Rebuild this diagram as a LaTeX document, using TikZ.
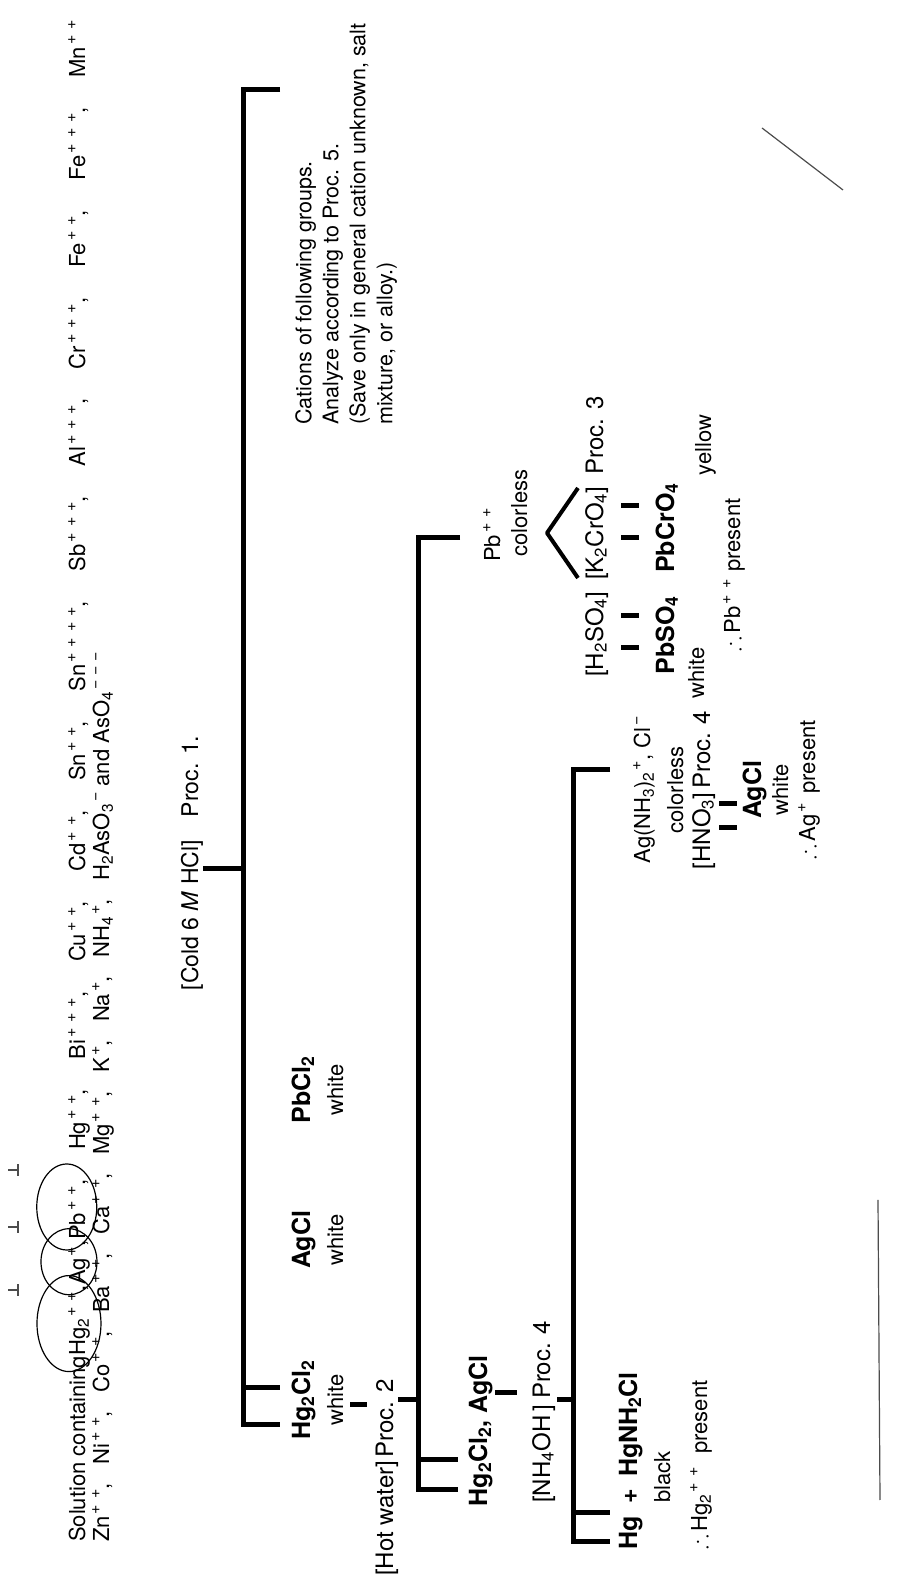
\documentclass[tikz,border=0pt]{standalone}
\usepackage{amssymb}
\usepackage{fontspec}
\setmainfont{TeX Gyre Heros}
\usetikzlibrary{positioning,shapes.geometric}
\newcommand{\sbs}[1]{\textsubscript{#1}}
\newcommand{\chg}[1]{\kern2pt\raisebox{0.42em}{\fontsize{16}{16}\selectfont#1}}
\newcommand{\mns}{\char"2212\relax}
\newcommand{\pp}{+\kern6pt+}
\newcommand{\ppp}{+\kern6pt+\kern6pt+}
\newcommand{\pppp}{+\kern6pt+\kern6pt+\kern6pt+}
\newcommand{\nx}{,\hspace{1.35em}}
\newcommand{\ny}{,\hspace{0.85em}}
\tikzset{
  ion/.style={inner sep=0pt,anchor=base west,font=\fontsize{22}{26}\selectfont},
  reag/.style={inner sep=0pt,anchor=base west,font=\fontsize{24}{28}\selectfont},
  ppt/.style={inner sep=0pt,anchor=base,font=\fontsize{25}{28}\selectfont\bfseries},
  desc/.style={inner sep=0pt,anchor=base,font=\fontsize{22}{26}\selectfont},
  note/.style={inner sep=0pt,anchor=north west,align=left,font=\fontsize{21.5}{27}\selectfont},
  bus/.style={line width=5pt,line join=miter},
  stub/.style={line width=5pt},
  caret/.style={line width=4pt,line join=round},
  ring/.style={line width=1.2pt},
  pen/.style={line width=1.2pt,black!70},
}
\begin{document}
\begin{tikzpicture}[x=1pt,y=1pt]
\path[fill=white,use as bounding box] (0,0) rectangle (911,1578);
\begin{scope}[shift={(911,0)},rotate=90,transform shape]
% cations in the solution
\node[ion] (sol) at (36,826) {Solution containing\hspace{34pt}};
\node[ion] (hgtwo) at (sol.base east) {Hg\sbs{2}\chg{\pp}};
\node[ion] (cma1) at (hgtwo.base east) {,\hspace{20pt}};
\node[ion] (agone) at (cma1.base east) {Ag\chg{+}};
\node[ion] (cma2) at (agone.base east) {,\hspace{20pt}};
\node[ion] (pbtwo) at (cma2.base east) {Pb\chg{\pp}};
\node[ion] (rest) at (pbtwo.base east) {\nx Hg\chg{\pp}\nx Bi\chg{\ppp}\nx Cu\chg{\pp}\nx Cd\chg{\pp}\nx Sn\chg{\pp}\nx Sn\chg{\pppp}\nx Sb\chg{\ppp}\nx Al\chg{\ppp}\nx Cr\chg{\ppp}\nx Fe\chg{\pp}\nx Fe\chg{\ppp}\nx Mn\chg{\pp}};
\node[ion] (soltwo) at (36,802) {Zn\chg{\pp}\ny Ni\chg{\pp}\ny Co\chg{\pp}\ny Ba\chg{\pp}\ny Ca\chg{\pp}\ny Mg\chg{\pp}\ny K\chg{+}\ny Na\chg{+}\ny NH\sbs{4}\chg{+}\ny H\sbs{2}AsO\sbs{3}\chg{\mns}\ and AsO\sbs{4}\chg{\mns\kern5pt\mns\kern5pt\mns}};
% pen marks
\draw[ring] (hgtwo.center) ++(0,10) ellipse [x radius=48,y radius=32];
\draw[ring] (agone.center) ++(4,10) ellipse [x radius=33,y radius=28];
\draw[ring] (pbtwo.center) ++(6,10) ellipse [x radius=43,y radius=30];
\foreach \x in {288,351,408} \draw[pen] (\x-6,893) -- (\x+6,893) (\x,893) -- (\x,903);

% group 1 precipitation
\node[reag,anchor=base,font=\fontsize{23}{28}\selectfont] (cold) at (715,713) {[Cold 6 \textit{M} HCl]\hspace{1em}Proc. 1.};
\coordinate (ja) at (709,668);
\draw[stub] (709,708) -- (ja);
\coordinate (ba) at (1488,668);
\coordinate (bb) at (153,668);
\draw[bus] (1488,631) -- (ba) -- (bb) -- (153,631);
\draw[bus] (190,668) -- (190,631);
\node[ppt] (hgcl) at (178,601) {Hg\sbs{2}Cl\sbs{2}};
\node[desc] (hgw) at (178,568) {white};
\node[ppt] (agcl) at (338,601) {AgCl};
\node[desc] (agw) at (338,568) {white};
\node[ppt] (pbcl) at (488,601) {PbCl\sbs{2}};
\node[desc] (pbw) at (488,568) {white};
\node[note] (cat) at (1153,616) {Cations of following groups.\\Analyze according to Proc. 5.\\(Save only in general cation unknown, salt\\mixture, or alloy.)};

% hot water
\draw[stub] (173,561) -- (173,544);
\node[reag] (hot) at (2,518) {[Hot water]\hspace{3pt}Proc. 2};
\coordinate (jb) at (178,493);
\draw[stub] (178,513) -- (jb);
\draw[bus] (1040,451) -- (1040,493) -- (88,493) -- (88,453);
\draw[bus] (118,493) -- (118,453);

% ammonia
\node[ppt] (hgag) at (147,424) {Hg\sbs{2}Cl\sbs{2}, AgCl};
\draw[stub] (185,416) -- (185,394);
\node[reag] (nho) at (75,361) {[NH\sbs{4}OH\,]\hspace{6pt}Proc. 4};
\coordinate (jc) at (178,338);
\draw[stub] (178,354) -- (jc);
\draw[bus] (808,301) -- (808,338) -- (36,338) -- (36,301);
\draw[bus] (65,338) -- (65,301);
\node[ppt,anchor=base west] (hgblk) at (28,274) {Hg\enspace+\enspace HgNH\sbs{2}Cl};
\node[desc] (blk) at (101,241) {black};
\node[desc,anchor=base west] (hgok) at (28,204) {$\therefore$\,Hg\sbs{2}\chg{\pp}\hspace{14pt}present};

% silver
\node[desc] (agam) at (788,261) {Ag(NH\sbs{3})\sbs{2}\chg{+}, Cl\chg{\mns}};
\node[desc] (agcol) at (788,228) {colorless};
\node[reag,anchor=base] (hno) at (788,201) {[HNO\sbs{3}]\,Proc. 4};
\foreach \x in {750,774} \draw[stub] (\x,192) -- (\x,174);
\node[ppt] (agcltwo) at (788,150) {AgCl};
\node[desc] (agwtwo) at (788,123) {white};
\node[desc] (agok) at (788,96) {$\therefore$\,Ag\chg{+}\hspace{10pt}present};

% lead
\node[desc] (pbion) at (1043,411) {Pb\chg{\pp}};
\node[desc] (pbcol) at (1065,384) {colorless};
\draw[caret] (1000,333) -- (1045,364) -- (1090,333);
\node[reag] (sulf) at (901,308) {[H\sbs{2}SO\sbs{4}]\enspace[K\sbs{2}CrO\sbs{4}]\enspace Proc. 3};
\foreach \x in {930,962,1040,1072} \draw[stub] (\x,290) -- (\x,272);
\node[ppt] (pbso) at (943,237) {PbSO\sbs{4}};
\node[ppt] (pbcr) at (1050,237) {PbCrO\sbs{4}};
\node[desc] (pbsw) at (905,207) {white};
\node[desc] (pbcy) at (1133,200) {yellow};
\node[desc] (pbok) at (1003,171) {$\therefore$\,Pb\chg{\pp}\hspace{8pt}present};

% scan marks
\draw[pen] (1450,149) -- (1388,68);
\draw[pen] (78,31) -- (378,33);
\end{scope}
\end{tikzpicture}
\end{document}
